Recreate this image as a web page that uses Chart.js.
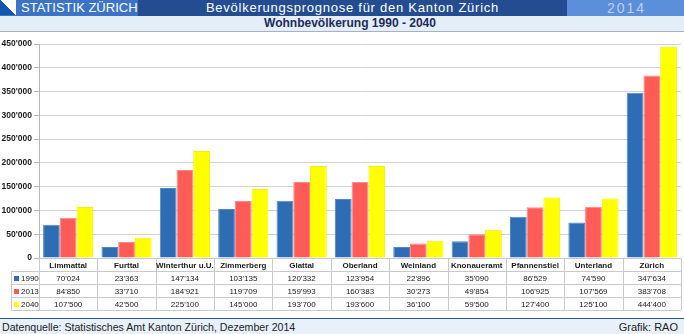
<!DOCTYPE html>
<html>
<head>
<meta charset="utf-8">
<script src="https://cdn.jsdelivr.net/npm/chart.js@4/dist/chart.umd.min.js"></script>
<style>
  body { margin: 0; width: 684px; height: 334px; overflow: hidden; background: #fff; font-family: "Liberation Sans", Arial, sans-serif; position: relative; }
  #top { position: absolute; left: 0; top: 0; width: 684px; height: 16px; }
  #top div { position: absolute; top: 0; height: 16px; line-height: 16px; color: #fff; white-space: nowrap; }
  .seg1 { left: 0; width: 138px; background: #3b74c6; font-size: 13px; }
  .seg1 .logo { position: absolute; left: 0; top: 0; width: 16px; height: 15px; background: linear-gradient(to top right, #0f58ad 50%, #fff 50%); }
  .seg1 .txt { position: absolute; left: 21px; top: 0; }
  .seg2 { left: 138px; width: 429px; background: #244c90; font-size: 13px; text-align: center; letter-spacing: 0.75px; }
  .seg3 { left: 567px; width: 117px; background: #5c8fd9; font-size: 14px; color: #b9d1f3 !important; letter-spacing: 2px; text-indent: 40px; }
  #sub { position: absolute; left: 0; top: 16px; width: 684px; height: 15px; line-height: 15px; background: #e4eef8; border-bottom: 1px solid #a7b0c0; text-align: center; font-size: 12px; font-weight: bold; color: #1c2c5c; text-indent: 16px; }
  #chartBox { position: absolute; left: 0; top: 32px; width: 684px; height: 286px; }
  #foot { position: absolute; left: 0; top: 318px; width: 684px; height: 16px; background: #e8f1fa; border-top: 1px solid #2b5698; font-size: 10.6px; color: #222; }
  #foot .l { position: absolute; left: 2px; top: 2px; }
  #foot .r { position: absolute; right: 6px; top: 2px; font-size: 11px; }
</style>
</head>
<body>
<div id="top">
  <div class="seg1"><span class="logo"></span><span class="txt">STATISTIK ZÜRICH</span></div>
  <div class="seg2">Bevölkerungsprognose für den Kanton Zürich</div>
  <div class="seg3">2014</div>
</div>
<div id="sub">Wohnbevölkerung 1990 - 2040</div>
<div id="chartBox"><canvas id="c" width="684" height="286"></canvas></div>
<div id="foot"><span class="l">Datenquelle: Statistisches Amt Kanton Zürich, Dezember 2014</span><span class="r">Grafik: RAO</span></div>

<script>
// regions (x categories)
const regions = ['Limmattal', 'Furttal', 'Winterthur u.U.', 'Zimmerberg', 'Glattal', 'Oberland',
  'Weinland', 'Knonaueramt', 'Pfannenstiel', 'Unterland', 'Zürich'];

const years = ['1990', '2013', '2040'];

const pop1990 = [70024, 23363, 147134, 103135, 120332, 123954, 22896, 35090, 86529, 74590, 347634];
const pop2013 = [84850, 33710, 184921, 119709, 159993, 160383, 30273, 49854, 106925, 107569, 383708];
const pop2040 = [107500, 42500, 225100, 145000, 193700, 193600, 36100, 59500, 127400, 125100, 444400];

const yTicks = [0, 50000, 100000, 150000, 200000, 250000, 300000, 350000, 400000, 450000];

const colors = ['#2e6db3', '#ff5c58', '#ffff00'];
const borders = ['#4f88c8', '#ff8784', '#f2f200'];

// 450'000 style
const fmt = v => String(v).replace(/\B(?=(\d{3})+(?!\d))/g, "'");

// draws the value table under the plot, aligned to the x scale
const tablePlugin = {
  id: 'dataTable',
  afterDraw(chart) {
    const ctx = chart.ctx;
    const area = chart.chartArea;
    const x = chart.scales.x;
    const rowH = 13;
    const top = area.bottom;
    const half = (x.getPixelForValue(1) - x.getPixelForValue(0)) / 2;
    const legLeft = 11;
    const rows = [pop1990, pop2013, pop2040];

    ctx.save();
    ctx.strokeStyle = '#c9c9c9';
    ctx.lineWidth = 1;
    ctx.beginPath();
    // horizontal lines
    ctx.moveTo(area.left, top + 0.5);
    ctx.lineTo(area.right, top + 0.5);
    for (let r = 1; r <= 4; r++) {
      const y = Math.round(top + r * rowH) + 0.5;
      ctx.moveTo(legLeft, y);
      ctx.lineTo(area.right, y);
    }
    // vertical lines
    ctx.moveTo(legLeft + 0.5, top + rowH);
    ctx.lineTo(legLeft + 0.5, top + 4 * rowH);
    for (let i = 0; i <= regions.length; i++) {
      const px = Math.round(x.getPixelForValue(i) - half) + 0.5;
      ctx.moveTo(px, top);
      ctx.lineTo(px, top + 4 * rowH);
    }
    ctx.stroke();

    ctx.textAlign = 'center';
    ctx.textBaseline = 'middle';
    ctx.fillStyle = '#1a1a1a';
    ctx.font = 'bold 8px "Liberation Sans", Arial, sans-serif';
    regions.forEach((name, i) => {
      ctx.fillText(name, x.getPixelForValue(i), top + rowH / 2 + 1);
    });
    ctx.font = '8px "Liberation Sans", Arial, sans-serif';
    rows.forEach((vals, r) => {
      const cy = top + (r + 1.5) * rowH + 1;
      vals.forEach((v, i) => {
        ctx.fillText(fmt(v), x.getPixelForValue(i), cy);
      });
      // legend cell
      ctx.fillStyle = colors[r];
      ctx.fillRect(legLeft + 3, Math.round(cy - 3), 5, 5);
      ctx.fillStyle = '#1a1a1a';
      ctx.textAlign = 'left';
      ctx.fillText(years[r], legLeft + 10, cy);
      ctx.textAlign = 'center';
    });
    ctx.restore();
  }
};

new Chart(document.getElementById('c'), {
  type: 'bar',
  data: {
    labels: regions,
    datasets: [pop1990, pop2013, pop2040].map((d, i) => ({
      label: years[i],
      data: d,
      backgroundColor: colors[i],
      borderColor: borders[i],
      borderWidth: 1,
      categoryPercentage: 0.86,
      barPercentage: 1.0
    }))
  },
  options: {
    responsive: false,
    animation: false,
    layout: { padding: { top: 12, right: 3, bottom: 60, left: 0 } },
    plugins: { legend: { display: false }, tooltip: { enabled: false } },
    scales: {
      x: { display: false },
      y: {
        min: 0,
        max: 450000,
        afterFit(scale) { scale.width = 39; },
        afterBuildTicks(scale) { scale.ticks = yTicks.map(v => ({ value: v })); },
        ticks: {
          padding: 2,
          color: '#1a1a1a',
          font: { family: '"Liberation Sans", Arial, sans-serif', size: 8.5, weight: 'bold' },
          callback: v => fmt(v)
        },
        grid: { color: '#d2d2d2', lineWidth: 1, tickLength: 5, tickColor: '#b8b8b8' },
        border: { color: '#b8b8b8' }
      }
    }
  },
  plugins: [tablePlugin]
});
</script>
</body>
</html>
